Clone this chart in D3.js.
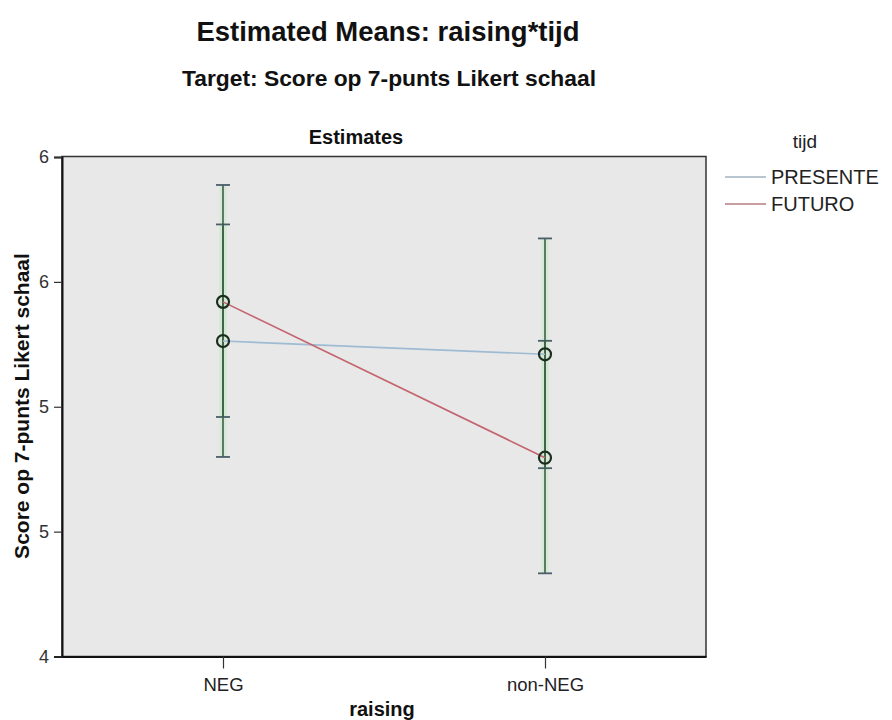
<!DOCTYPE html>
<html><head><meta charset="utf-8">
<script src="https://cdn.jsdelivr.net/npm/d3@7"></script>
<style>body{margin:0;background:#fff}svg{display:block}</style>
</head><body>
<script>
const categories = ["NEG", "non-NEG"];
const seriesNames = ["PRESENTE", "FUTURO"];
const presenteMeans = [5.263, 5.210];
const futuroMeans = [5.420, 4.796];
const presenteLow = [4.959, 4.754];
const presenteHigh = [5.730, 5.264];
const futuroLow = [4.799, 4.333];
const futuroHigh = [5.888, 5.674];
const yTicks = [4, 4.5, 5, 5.5, 6];
const yTickLabels = ["4", "5", "5", "6", "6"];
const seriesColors = ["#9fbbd3", "#c4646e"];
const legendColors = ["#b8c6d2", "#c99ca0"];

const W = 892, H = 720;
const svg = d3.select("body").append("svg").attr("width", W).attr("height", H);
const m = {l: 62, r: 706, t: 156.5, b: 656.5};

const x = d3.scalePoint().domain(categories).range([m.l, m.r]).padding(0.5);
const y = d3.scaleLinear().domain([4, 6]).range([m.b, 157]);

svg.append("rect").attr("x", m.l).attr("y", m.t).attr("width", m.r - m.l).attr("height", m.b - m.t)
  .attr("fill", "#e8e8e8").attr("stroke", "#333").attr("stroke-width", 1.5);

const font = "Arial, 'Liberation Sans', sans-serif";

// titles
svg.append("text").attr("x", 388).attr("y", 41).attr("text-anchor", "middle")
  .attr("font-family", font).attr("font-weight", "bold").attr("font-size", 27).attr("fill", "#111")
  .attr("textLength", 383).attr("lengthAdjust", "spacingAndGlyphs")
  .text("Estimated Means: raising*tijd");
svg.append("text").attr("x", 389).attr("y", 86).attr("text-anchor", "middle")
  .attr("font-family", font).attr("font-weight", "bold")
  .attr("font-size", 22).attr("fill", "#111").attr("textLength", 414).attr("lengthAdjust", "spacingAndGlyphs")
  .text("Target: Score op 7-punts Likert schaal");
svg.append("text").attr("x", 356).attr("y", 144).attr("text-anchor", "middle")
  .attr("font-family", font).attr("font-weight", "bold").attr("font-size", 20).attr("fill", "#111")
  .text("Estimates");

// axes
const yAxis = d3.axisLeft(y).tickValues(yTicks).tickSize(8).tickFormat((d, i) => yTickLabels[i]);
const gy = svg.append("g").attr("transform", `translate(${m.l},0)`).call(yAxis);
gy.select(".domain").attr("stroke", "#111").attr("stroke-width", 2);
gy.selectAll(".tick line").attr("stroke", "#333").attr("stroke-width", 1.2);
gy.selectAll(".tick text").attr("font-family", font).attr("font-size", 18).attr("fill", "#333").attr("x", -13);

const xAxis = d3.axisBottom(x).tickSize(12).tickSizeOuter(0);
const gx = svg.append("g").attr("transform", `translate(0,${m.b})`).call(xAxis);
gx.select(".domain").attr("stroke", "#111").attr("stroke-width", 2);
gx.selectAll(".tick line").attr("stroke", "#333").attr("stroke-width", 1.2);
gx.selectAll(".tick text").attr("font-family", font).attr("font-size", 18.5).attr("fill", "#222")
  .attr("dy", null).attr("y", 34);

svg.append("text").attr("x", 382).attr("y", 716).attr("text-anchor", "middle")
  .attr("font-family", font).attr("font-weight", "bold").attr("font-size", 20).attr("fill", "#111").text("raising");
svg.append("text").attr("transform", `translate(29,406) rotate(-90)`).attr("text-anchor", "middle")
  .attr("font-family", font).attr("font-weight", "bold").attr("font-size", 21).attr("fill", "#111")
  .text("Score op 7-punts Likert schaal");

// series
const series = [
  {name: seriesNames[0], means: presenteMeans, lo: presenteLow, hi: presenteHigh, color: seriesColors[0]},
  {name: seriesNames[1], means: futuroMeans, lo: futuroLow, hi: futuroHigh, color: seriesColors[1]}
];

// error bars: glow then line
series.forEach(s => {
  categories.forEach((c, i) => {
    svg.append("line").attr("x1", x(c)).attr("x2", x(c)).attr("y1", y(s.lo[i])).attr("y2", y(s.hi[i]))
      .attr("stroke", "#cfe8cf").attr("stroke-width", 7).attr("opacity", 0.7);
  });
});
series.forEach(s => {
  categories.forEach((c, i) => {
    svg.append("line").attr("x1", x(c)).attr("x2", x(c)).attr("y1", y(s.lo[i])).attr("y2", y(s.hi[i]))
      .attr("stroke", "#3e5e46").attr("stroke-width", 1.6);
    [s.lo[i], s.hi[i]].forEach(v => {
      svg.append("line").attr("x1", x(c) - 7).attr("x2", x(c) + 7).attr("y1", y(v)).attr("y2", y(v))
        .attr("stroke", "#4a5e6a").attr("stroke-width", 1.8);
    });
  });
});

const line = d3.line().x((d, i) => x(categories[i])).y(d => y(d));
series.forEach(s => {
  svg.append("path").datum(s.means).attr("d", line).attr("fill", "none")
    .attr("stroke", s.color).attr("stroke-width", 1.6);
});
series.forEach(s => {
  categories.forEach((c, i) => {
    svg.append("circle").attr("cx", x(c)).attr("cy", y(s.means[i])).attr("r", 6)
      .attr("fill", "none").attr("stroke", "#1b2e1e").attr("stroke-width", 2.2);
  });
});

// legend
svg.append("text").attr("x", 805).attr("y", 148).attr("text-anchor", "middle")
  .attr("font-family", font).attr("font-size", 19).attr("fill", "#222").text("tijd");
series.forEach((s, i) => {
  const ly = 177 + i * 27;
  svg.append("line").attr("x1", 725).attr("x2", 766).attr("y1", ly).attr("y2", ly)
    .attr("stroke", legendColors[i]).attr("stroke-width", 2);
  svg.append("text").attr("x", 771).attr("y", ly + 7).attr("font-family", font).attr("font-size", 20)
    .attr("fill", "#222").text(s.name);
});
</script>
</body></html>
